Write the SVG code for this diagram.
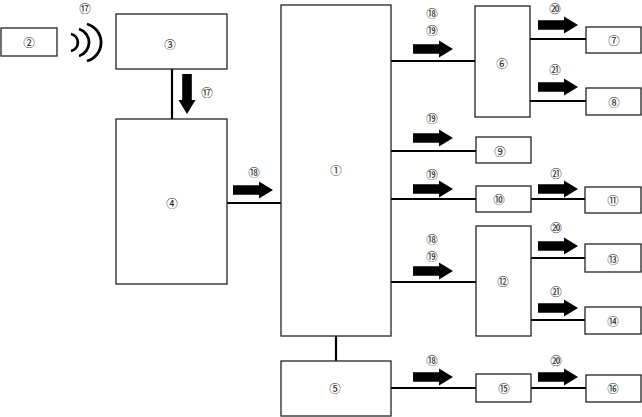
<svg xmlns="http://www.w3.org/2000/svg" xmlns:xlink="http://www.w3.org/1999/xlink" width="642" height="417" viewBox="0 0 642 417">
<style>
.box{fill:#fff;stroke:#222;stroke-width:1.3}
.ln{stroke:#000;stroke-width:2.2;fill:none}
.wave{stroke:#000;stroke-width:2.8;fill:none}
text{font-family:"Noto Sans CJK JP","DejaVu Sans",sans-serif;font-size:11.5px;fill:#111;text-anchor:middle;dominant-baseline:central}
.arr{fill:#000}
</style>
<defs>
<path id="ar" class="arr" d="M0,-4.8 H26 V-8.5 L40,0 L26,8.5 V4.8 H0 Z"/>
</defs>
<rect width="642" height="417" fill="#fff"/>
<g id="connectors">
<line class="ln" x1="172" y1="69" x2="172" y2="119"/>
<line class="ln" x1="227" y1="203" x2="281" y2="203"/>
<line class="ln" x1="336" y1="336" x2="336" y2="361"/>
<line class="ln" x1="391" y1="61" x2="475" y2="61"/>
<line class="ln" x1="530" y1="39" x2="586" y2="39"/>
<line class="ln" x1="530" y1="101" x2="586" y2="101"/>
<line class="ln" x1="391" y1="151" x2="476" y2="151"/>
<line class="ln" x1="391" y1="199" x2="476" y2="199"/>
<line class="ln" x1="531" y1="199" x2="585" y2="199"/>
<line class="ln" x1="391" y1="282" x2="476" y2="282"/>
<line class="ln" x1="531" y1="258" x2="585" y2="258"/>
<line class="ln" x1="531" y1="320" x2="585" y2="320"/>
<line class="ln" x1="391" y1="388" x2="476" y2="388"/>
<line class="ln" x1="531" y1="388" x2="586" y2="388"/>
<path class="wave" d="M71,34 A8.7,8.7 0 0 1 71,51"/>
<path class="wave" d="M79,29 A14.1,14.1 0 0 1 79,56"/>
<path class="wave" d="M87,24 A19.2,19.2 0 0 1 87,61"/>
<use xlink:href="#ar" href="#ar" transform="translate(187,74) rotate(90)"/>
<use xlink:href="#ar" href="#ar" x="233" y="190"/>
<use xlink:href="#ar" href="#ar" x="413" y="49"/>
<use xlink:href="#ar" href="#ar" x="538" y="25"/>
<use xlink:href="#ar" href="#ar" x="538" y="87"/>
<use xlink:href="#ar" href="#ar" x="413" y="138"/>
<use xlink:href="#ar" href="#ar" x="413" y="189"/>
<use xlink:href="#ar" href="#ar" x="538" y="189"/>
<use xlink:href="#ar" href="#ar" x="413" y="271"/>
<use xlink:href="#ar" href="#ar" x="538" y="246"/>
<use xlink:href="#ar" href="#ar" x="538" y="308"/>
<use xlink:href="#ar" href="#ar" x="413" y="377"/>
<use xlink:href="#ar" href="#ar" x="538" y="377"/>
<text x="85" y="8">⑰</text>
<text x="207" y="92">⑰</text>
<text x="254" y="172">⑱</text>
<text x="432" y="12.5">⑱</text>
<text x="432" y="29.5">⑲</text>
<text x="555" y="8">⑳</text>
<text x="555" y="69">㉑</text>
<text x="432" y="118">⑲</text>
<text x="432" y="174">⑲</text>
<text x="556" y="173">㉑</text>
<text x="432" y="239">⑱</text>
<text x="432" y="256">⑲</text>
<text x="556" y="227">⑳</text>
<text x="556" y="291">㉑</text>
<text x="432" y="360">⑱</text>
<text x="556" y="360">⑳</text>
</g>
<g id="n1"><rect class="box" x="281" y="5" width="110" height="331"/><text x="336" y="170">①</text></g>
<g id="n2"><rect class="box" x="1" y="28" width="56" height="28"/><text x="29" y="42">②</text></g>
<g id="n3"><rect class="box" x="116" y="14" width="111" height="55"/><text x="170" y="44">③</text></g>
<g id="n4"><rect class="box" x="116" y="119" width="111" height="165"/><text x="172" y="203">④</text></g>
<g id="n5"><rect class="box" x="281" y="361" width="110" height="55"/><text x="335" y="388">⑤</text></g>
<g id="n6"><rect class="box" x="475" y="6" width="55" height="111"/><text x="502" y="63">⑥</text></g>
<g id="n7"><rect class="box" x="586" y="27" width="55" height="26"/><text x="614" y="40">⑦</text></g>
<g id="n8"><rect class="box" x="586" y="88" width="55" height="27"/><text x="614" y="102">⑧</text></g>
<g id="n9"><rect class="box" x="476" y="137" width="55" height="26"/><text x="500" y="151">⑨</text></g>
<g id="n10"><rect class="box" x="476" y="186" width="55" height="26"/><text x="499" y="199">⑩</text></g>
<g id="n11"><rect class="box" x="585" y="187" width="56" height="26"/><text x="613" y="200">⑪</text></g>
<g id="n12"><rect class="box" x="476" y="226" width="55" height="110"/><text x="503" y="281">⑫</text></g>
<g id="n13"><rect class="box" x="585" y="244" width="56" height="28"/><text x="613" y="259">⑬</text></g>
<g id="n14"><rect class="box" x="585" y="307" width="56" height="27"/><text x="613" y="321">⑭</text></g>
<g id="n15"><rect class="box" x="476" y="374" width="55" height="28"/><text x="504" y="388">⑮</text></g>
<g id="n16"><rect class="box" x="586" y="375" width="55" height="27"/><text x="613" y="388">⑯</text></g>
</svg>
